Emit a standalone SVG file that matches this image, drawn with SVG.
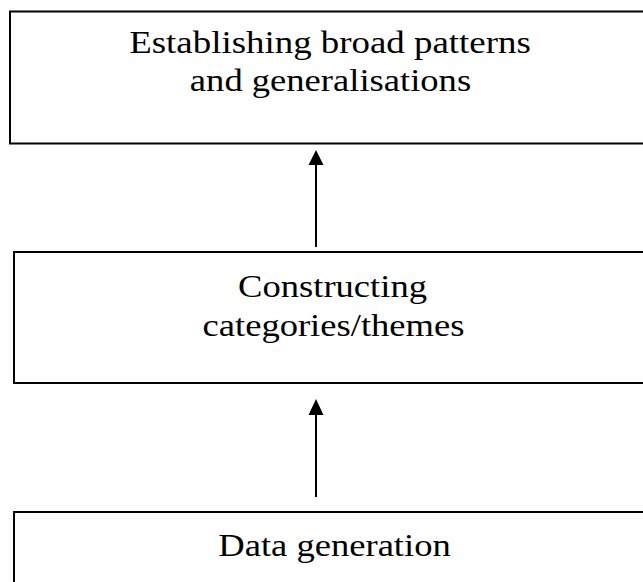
<svg xmlns="http://www.w3.org/2000/svg" width="643" height="582" viewBox="0 0 643 582">
  <style>
    .box { fill: #ffffff; stroke: #000000; stroke-width: 2; }
    .lbl { font-family: 'Liberation Serif', 'Times New Roman', Times, serif; font-size: 31px; fill: #000000; text-anchor: middle; }
    .link { stroke: #000000; stroke-width: 2; fill: none; }
    .head { fill: #000000; }
  </style>
  <rect width="643" height="582" fill="#ffffff"/>

  <g id="node-patterns">
    <rect class="box" x="10" y="11.5" width="650" height="132"/>
    <!-- labels are widened horizontally by 1.18 around their centre point -->
    <text class="lbl" transform="translate(330 53) scale(1.19 1)">Establishing broad patterns</text>
    <text class="lbl" transform="translate(330.5 91) scale(1.18 1)">and generalisations</text>
  </g>

  <g id="node-categories">
    <rect class="box" x="14" y="252" width="650" height="131"/>
    <text class="lbl" transform="translate(332.5 297) scale(1.18 1)">Constructing</text>
    <text class="lbl" transform="translate(333.5 336) scale(1.18 1)">categories/themes</text>
  </g>

  <g id="node-data">
    <rect class="box" x="14" y="512" width="650" height="120"/>
    <text class="lbl" transform="translate(334.5 556) scale(1.18 1)">Data generation</text>
  </g>

  <g id="connectors">
    <line class="link" x1="316" y1="247" x2="316" y2="162"/>
    <polygon class="head" points="316,150 323.5,165 308.5,165"/>
    <line class="link" x1="316" y1="497" x2="316" y2="412"/>
    <polygon class="head" points="316,399 323.5,415 308.5,415"/>
  </g>
</svg>
